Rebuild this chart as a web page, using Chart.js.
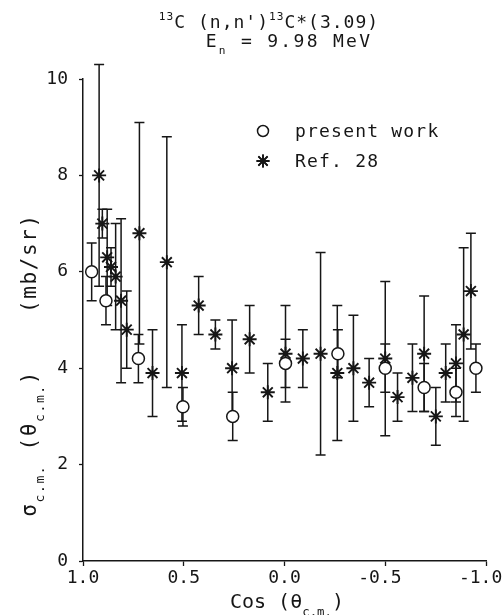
<!DOCTYPE html>
<html><head><meta charset="utf-8">
<script src="https://cdn.jsdelivr.net/npm/chart.js@4/dist/chart.umd.min.js"></script>
<style>html,body{margin:0;padding:0;background:#fff;}#wrap{width:502px;height:615px;}</style>
</head><body><div id="wrap"><canvas id="c" width="502" height="615"></canvas></div>
<script>
// ---- data ----
const presentCos = [0.957, 0.886, 0.725, 0.504, 0.257, -0.005, -0.265, -0.50, -0.693, -0.851, -0.95];
const presentVal = [6.0, 5.4, 4.2, 3.2, 3.0, 4.1, 4.3, 4.0, 3.6, 3.5, 4.0];
const presentErr = [0.6, 0.5, 0.5, 0.4, 0.5, 0.5, 0.5, 0.5, 0.5, 0.5, 0.5];

const refCos = [0.92, 0.904, 0.88, 0.861, 0.838, 0.811, 0.783, 0.72, 0.655, 0.584, 0.509, 0.426, 0.343, 0.26, 0.173, 0.083,
                -0.005, -0.091, -0.179, -0.262, -0.342, -0.42, -0.50, -0.561, -0.635, -0.693, -0.751, -0.80, -0.851, -0.889, -0.925];
const refVal = [8.0, 7.0, 6.3, 6.1, 5.9, 5.4, 4.8, 6.8, 3.9, 6.2, 3.9, 5.3, 4.7, 4.0, 4.6, 3.5,
                4.3, 4.2, 4.3, 3.9, 4.0, 3.7, 4.2, 3.4, 3.8, 4.3, 3.0, 3.9, 4.1, 4.7, 5.6];
const refErr = [2.3, 0.3, 1.0, 0.4, 1.1, 1.7, 0.8, 2.3, 0.9, 2.6, 1.0, 0.6, 0.3, 1.0, 0.7, 0.6,
                1.0, 0.6, 2.1, 1.4, 1.1, 0.5, 1.6, 0.5, 0.7, 1.2, 0.6, 0.6, 0.8, 1.8, 1.2];

const xTicks = [1.0, 0.5, 0.0, -0.5, -1.0];
const xTickLabels = ['1.0', '0.5', '0.0', '-0.5 ', '-1.0 '];
const yTicks = [0, 2, 4, 6, 8, 10];
const yTickLabels = ['0', '2', '4', '6', '8', '10'];
const legendLabels = ['present work', 'Ref. 28'];

const INK = '#161616';
const FONT = '"DejaVu Sans Mono", monospace';

function drawRuns(ctx, runs, x, y, size, spacing, align) {
  const measure = () => {
    let w = 0;
    runs.forEach(r => {
      const s = r[1] === 'n' ? size : size * 0.62;
      ctx.font = s + 'px ' + FONT;
      w += ctx.measureText(r[0]).width;
    });
    return w;
  };
  try { ctx.letterSpacing = spacing + 'px'; } catch (e) {}
  let cx = x;
  if (align === 'center') cx = x - measure() / 2;
  runs.forEach(r => {
    const s = r[1] === 'n' ? size : size * 0.62;
    const dy = r[1] === 'sub' ? size * 0.38 : (r[1] === 'sup' ? -size * 0.45 : 0);
    ctx.font = s + 'px ' + FONT;
    ctx.fillText(r[0], cx, y + dy);
    cx += ctx.measureText(r[0]).width;
  });
  try { ctx.letterSpacing = '0px'; } catch (e) {}
}

const errorBars = {
  id: 'errorBars',
  beforeDatasetsDraw(chart) {
    const { ctx, scales: { x, y } } = chart;
    ctx.save();
    ctx.strokeStyle = INK;
    ctx.lineWidth = 1.5;
    chart.data.datasets.forEach(ds => {
      ds.data.forEach(p => {
        const px = x.getPixelForValue(p.x);
        const y1 = y.getPixelForValue(p.y - p.e);
        const y2 = y.getPixelForValue(p.y + p.e);
        ctx.beginPath();
        ctx.moveTo(px, y1); ctx.lineTo(px, y2);
        ctx.moveTo(px - 5, y1); ctx.lineTo(px + 5, y1);
        ctx.moveTo(px - 5, y2); ctx.lineTo(px + 5, y2);
        ctx.stroke();
      });
    });
    ctx.restore();
  }
};

const annotations = {
  id: 'annotations',
  afterDraw(chart) {
    const ctx = chart.ctx;
    ctx.save();
    ctx.fillStyle = INK;
    ctx.textBaseline = 'alphabetic';
    ctx.textAlign = 'left';
    // title
    drawRuns(ctx, [['13', 'sup'], ['C (n,n\')', 'n'], ['13', 'sup'], ['C*(3.09)', 'n']], 269, 28, 18, 1.0, 'center');
    drawRuns(ctx, [['E', 'n'], ['n', 'sub'], [' = 9.98 MeV', 'n']], 289, 47, 18, 2.3, 'center');
    // legend
    ctx.strokeStyle = INK;
    ctx.lineWidth = 1.5;
    ctx.fillStyle = '#fff';
    ctx.beginPath(); ctx.arc(263, 131, 5.5, 0, Math.PI * 2); ctx.fill(); ctx.stroke();
    ctx.fillStyle = INK;
    Chart.helpers.drawPoint(ctx, { pointStyle: 'star', radius: 6.5, rotation: 0, borderWidth: 1.8 }, 263, 161);
    ctx.strokeStyle = INK; ctx.lineWidth = 1.8;
    ctx.stroke();
    drawRuns(ctx, [[legendLabels[0], 'n']], 295, 137, 18, 1.2, 'left');
    drawRuns(ctx, [[legendLabels[1], 'n']], 295, 167, 18, 1.2, 'left');
    // x title
    drawRuns(ctx, [['Cos (θ', 'n'], ['c.m.', 'sub'], [')', 'n']], 287, 608, 20, 0, 'center');
    // y title
    ctx.translate(36, 365);
    ctx.rotate(-Math.PI / 2);
    drawRuns(ctx, [['σ', 'n'], ['c.m.', 'sub'], [' (θ', 'n'], ['c.m.', 'sub'], [')    (mb/sr)', 'n']], 0, 0, 21, 1.6, 'center');
    ctx.restore();
  }
};

const data = {
  datasets: [
    {
      label: legendLabels[0],
      data: presentCos.map((c, i) => ({ x: c, y: presentVal[i], e: presentErr[i] })),
      pointStyle: 'circle', pointRadius: 6, pointBorderWidth: 1.5,
      pointBackgroundColor: '#fff', pointBorderColor: INK, showLine: false, clip: false
    },
    {
      label: legendLabels[1],
      data: refCos.map((c, i) => ({ x: c, y: refVal[i], e: refErr[i] })),
      pointStyle: 'star', pointRadius: 7, pointBorderWidth: 1.9,
      pointBackgroundColor: INK, pointBorderColor: INK, showLine: false, clip: false
    }
  ]
};

new Chart(document.getElementById('c'), {
  type: 'scatter',
  data,
  plugins: [errorBars, annotations],
  options: {
    responsive: false, animation: false, devicePixelRatio: 1,
    layout: { padding: { top: 79, right: 16, left: 0, bottom: 0 } },
    plugins: { legend: { display: false }, tooltip: { enabled: false }, title: { display: false } },
    scales: {
      x: {
        type: 'linear', reverse: true, min: -1, max: 1,
        afterBuildTicks: s => { s.ticks = xTicks.map(v => ({ value: v })); },
        afterFit: s => { s.height = 54; s.paddingLeft = 0; s.paddingRight = 0; },
        ticks: {
          color: INK, padding: 2, maxRotation: 0, autoSkip: false,
          font: { family: FONT, size: 18 },
          callback: (v) => { const i = xTicks.indexOf(v); return i >= 0 ? xTickLabels[i] : ''; }
        },
        grid: { display: true, drawOnChartArea: false, drawTicks: true, tickLength: 5, tickColor: INK, tickWidth: 1.3 },
        border: { display: true, color: INK, width: 1.5 }
      },
      y: {
        type: 'linear', min: 0, max: 10,
        afterBuildTicks: s => { s.ticks = yTicks.map(v => ({ value: v })); },
        afterFit: s => { s.width = 83; s.paddingTop = 0; s.paddingBottom = 0; },
        ticks: {
          color: INK, padding: 11, autoSkip: false,
          font: { family: FONT, size: 18 },
          callback: (v) => { const i = yTicks.indexOf(v); return i >= 0 ? yTickLabels[i] : ''; }
        },
        grid: { display: true, drawOnChartArea: false, drawTicks: true, tickLength: 4, tickColor: INK, tickWidth: 1.3 },
        border: { display: true, color: INK, width: 1.5 }
      }
    }
  }
});
</script>
</body></html>
